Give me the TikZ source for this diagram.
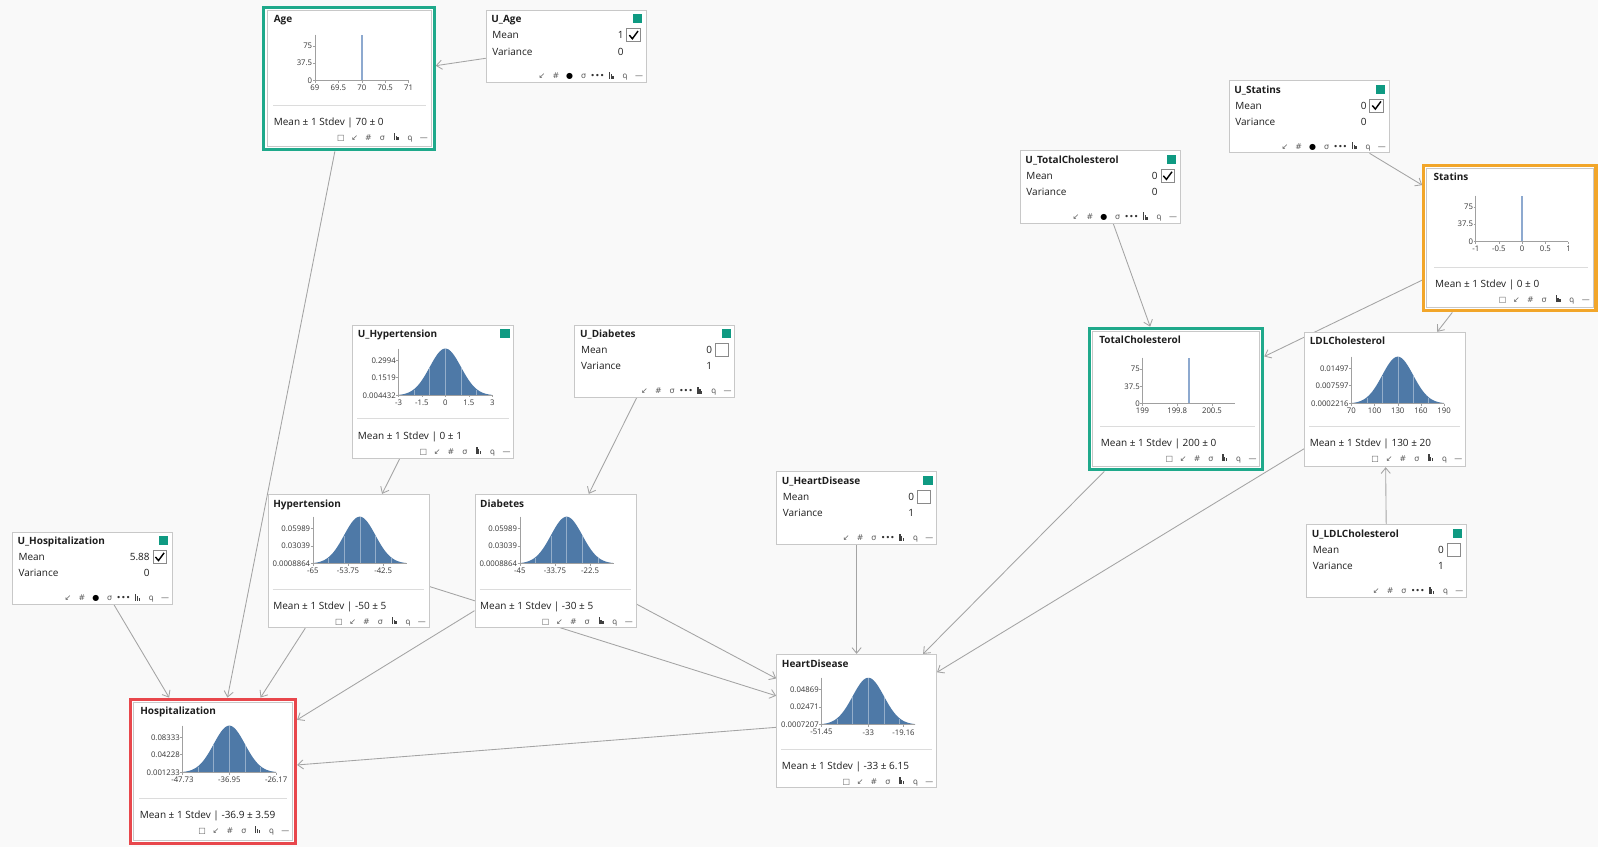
\documentclass[tikz,border=0pt]{standalone}
\usepackage{fontspec}
\usepackage{graphicx}
\setmainfont{Open Sans}
\newfontfamily\iconfont{DejaVu Sans}
\usetikzlibrary{arrows.meta}
\definecolor{bgc}{HTML}{F9F9F9}
\definecolor{cardline}{HTML}{C8C8C8}
\definecolor{edgec}{HTML}{A4A4A4}
\definecolor{hlgreen}{HTML}{1FA98B}
\definecolor{hlorange}{HTML}{F2A62A}
\definecolor{hlred}{HTML}{E8474C}
\definecolor{sqgreen}{HTML}{0F9A82}
\definecolor{distblue}{HTML}{4E79A7}
\definecolor{spikec}{HTML}{8DA9CF}
\definecolor{axisc}{HTML}{A0A0A0}
\definecolor{txt}{HTML}{1E1E1E}
\definecolor{icc}{HTML}{5A5A5A}
\definecolor{sepc}{HTML}{DCDCDC}
\definecolor{chkc}{HTML}{8A8A8A}
\pgfdeclarelayer{edgelayer}
\pgfsetlayers{edgelayer,main}
\tikzset{
 card/.style={draw=cardline, fill=white, line width=0.8pt, inner sep=0pt, rectangle},
 hlcard/.style={fill=white, line width=3pt, inner sep=0pt, rectangle},
 ttl/.style={font=\fontsize{9.8}{11}\selectfont\bfseries, text=txt, inner sep=0pt},
 lbl/.style={font=\fontsize{9.8}{11}\selectfont, text=txt, inner sep=0pt},
 tick/.style={font=\fontsize{7.6}{8}\selectfont, text=txt!90, inner sep=0pt},
 icn/.style={font=\iconfont\fontsize{7.8}{8}\selectfont, text=icc, inner sep=0pt},
 axis/.style={draw=axisc, line width=0.5pt},
 edge/.style={draw=edgec, line width=0.85pt, -{Straight Barb[length=5.5pt,width=9pt]}},
}
\newcommand{\icbox}[1]{\makebox[13.6pt]{#1}}
\newcommand{\icbars}{{\color{black!75}\rule{1.3pt}{7pt}\hspace{0.5pt}\rule{1.3pt}{4.5pt}\hspace{0.5pt}\rule{1.3pt}{2.8pt}}}
\newcommand{\icmagn}{\reflectbox{ρ}}
\newcommand{\iconP}{\icbox{↙}\icbox{\#}\icbox{\color{black}●}\icbox{σ}\icbox{\color{black!80}•••}\icbox{\icbars}\icbox{\icmagn}\icbox{—}}
\newcommand{\iconN}{\icbox{↙}\icbox{\#}\icbox{σ}\icbox{\color{black!80}•••}\icbox{\icbars}\icbox{\icmagn}\icbox{—}}
\newcommand{\iconD}{\icbox{□}\icbox{↙}\icbox{\#}\icbox{σ}\icbox{\icbars}\icbox{\icmagn}\icbox{—}}
% parameter card: name, X, Y, title, mean, checked, variance, dot
\newcommand{\pcard}[8]{%
 \node[card, minimum width=157pt, minimum height=71pt] (#1) at (#2+78.5,#3+35.5) {};
 \node[ttl, anchor=base west] (#1-t) at (#2+5,#3+12.5) {#4};
 \fill[sqgreen] (#2+144,#3+4) rectangle (#2+153,#3+13);
 \node[lbl, anchor=base west] (#1-m) at (#2+6,#3+28) {Mean};
 \node[lbl, anchor=base east] (#1-mv) at (#2+135,#3+28) {#5};
 \draw[chkc, fill=white, line width=0.6pt] (#2+138,#3+18) rectangle (#2+151,#3+31);
 \ifnum#6=1\relax \draw[black, line width=1.4pt] (#2+140.5,#3+24.5) -- (#2+143.5,#3+28) -- (#2+149,#3+20.5);\fi
 \node[lbl, anchor=base west] (#1-v) at (#2+6,#3+44) {Variance};
 \node[lbl, anchor=base east] (#1-vv) at (#2+135,#3+44) {#7};
 \node[icn, anchor=base east] (#1-i) at (#2+157,#3+67.5) {\ifnum#8=1\relax\iconP\else\iconN\fi};
}
% distribution card: name, X, Y, W, H, title, square
\newcommand{\dcard}[7]{%
 \node[card, minimum width=#4pt, minimum height=#5pt] (#1) at (#2+#4/2,#3+#5/2) {};
 \node[ttl, anchor=base west] (#1-t) at (#2+5,#3+12.5) {#6};
 \ifnum#7=1\relax \fill[sqgreen] (#2+#4-13,#3+4) rectangle (#2+#4-4,#3+13);\fi
}
% highlighted card: name, X, Y, W, H, title, colour
\newcommand{\hcard}[7]{%
 \node[hlcard, draw=#7, minimum width=#4pt+6pt, minimum height=#5pt+6pt] (#1) at (#2+#4/2,#3+#5/2) {};
 \draw[cardline, line width=0.8pt] (#2,#3) rectangle (#2+#4,#3+#5);
 \node[ttl, anchor=base west] (#1-t) at (#2+6.5,#3+12.5) {#6};
}
% summary: name, text x, card right, separator y, text
\newcommand{\summ}[5]{%
 \draw[sepc, line width=0.8pt] (#2-0.5,#4) -- (#3-5,#4);
 \node[lbl, anchor=base west] (#1-s) at (#2,#4+20.5) {Mean ± 1 Stdev | #5};
 \node[icn, anchor=base east] (#1-i) at (#3,#4+34.5) {\iconD};
}
% gaussian chart: X0, B, W, ytop, ymid, ybot, xlabels
\newcommand{\gausschart}[7]{%
 \fill[distblue] (#1,#2) -- plot[domain=-3:3, samples=80, variable=\t] ({#1+(\t+3)/6*#3},{#2-46*exp(-0.5*(\t)*(\t))}) -- (#1+#3,#2) -- cycle;
 \foreach \k in {-2,-1,0,1,2} \draw[white, opacity=0.4, line width=0.5pt] ({#1+(\k+3)/6*#3},#2) -- ({#1+(\k+3)/6*#3},{#2-46*exp(-0.5*(\k)*(\k))+0.6});
 \draw[axis] (#1,#2-46) -- (#1,#2) -- (#1+#3,#2);
 \foreach \v/\d in {#4/34.5,#5/17.5,#6/0} {\draw[axis] (#1-2,#2-\d) -- (#1,#2-\d); \node[tick, anchor=east] at (#1-2.5,#2-\d) {\v};}
 \foreach \l/\f in {#7} {\draw[axis] ({#1+\f*#3},#2) -- ({#1+\f*#3},#2+2); \node[tick, anchor=north] at ({#1+\f*#3},#2+4.5) {\l};}
}
% spike chart: X0, B, W, xlabels
\newcommand{\spikechart}[4]{%
 \fill[spikec] (#1+#3/2-1,#2) rectangle (#1+#3/2+1,#2-45);
 \draw[axis] (#1,#2-45) -- (#1,#2) -- (#1+#3,#2);
 \foreach \v/\d in {75/34,37.5/17,0/0} {\draw[axis] (#1-2,#2-\d) -- (#1,#2-\d); \node[tick, anchor=east] at (#1-2.5,#2-\d) {\v};}
 \foreach \l/\f in {#4} {\draw[axis] ({#1+\f*#3},#2) -- ({#1+\f*#3},#2+2); \node[tick, anchor=north] at ({#1+\f*#3},#2+4.5) {\l};}
}
\begin{document}
\begin{tikzpicture}[x=1pt,y=-1pt]
\begin{pgfonlayer}{edgelayer}
\fill[bgc] (0,0) rectangle (1568,831);
\end{pgfonlayer}
\useasboundingbox (0,0) rectangle (1568,831);

\pcard{uage}{477}{10}{U\_Age}{1}{1}{0}{1}
\pcard{ustat}{1206}{79}{U\_Statins}{0}{1}{0}{1}
\pcard{utc}{1001}{148}{U\_TotalCholesterol}{0}{1}{0}{1}
\pcard{udia}{564}{319}{U\_Diabetes}{0}{0}{1}{0}
\pcard{uhd}{762}{463}{U\_HeartDisease}{0}{0}{1}{0}
\pcard{uldl}{1282}{515}{U\_LDLCholesterol}{0}{0}{1}{0}
\pcard{uhosp}{12}{522}{U\_Hospitalization}{5.88}{1}{0}{1}

\dcard{uhyp}{346}{319}{158}{131}{U\_Hypertension}{1}
\gausschart{391}{388}{92}{0.2994}{0.1519}{0.004432}{-3/0,-1.5/0.25,0/0.5,1.5/0.75,3/1}
\summ{uhyp}{351}{504}{411}{0 ± 1}

\dcard{hyp}{263}{485}{158}{131}{Hypertension}{0}
\gausschart{307}{553}{92}{0.05989}{0.03039}{0.0008864}{-65/0,-53.75/0.375,-42.5/0.75}
\summ{hyp}{268}{421}{578}{-50 ± 5}

\dcard{dia}{466}{485}{158}{131}{Diabetes}{0}
\gausschart{510}{553}{92}{0.05989}{0.03039}{0.0008864}{-45/0,-33.75/0.375,-22.5/0.75}
\summ{dia}{471}{624}{578}{-30 ± 5}

\dcard{hd}{762}{642}{157}{131}{HeartDisease}{0}
\gausschart{806}{711}{92}{0.04869}{0.02471}{0.0007207}{-51.45/0,-33/0.5,-19.16/0.875}
\summ{hd}{767}{919}{735}{-33 ± 6.15}

\dcard{ldl}{1280}{326}{158}{132}{LDLCholesterol}{0}
\gausschart{1326}{396}{91}{0.01497}{0.007597}{0.0002216}{70/0,100/0.25,130/0.5,160/0.75,190/1}
\summ{ldl}{1285}{1438}{418}{130 ± 20}

\hcard{age}{262}{10}{161}{134}{Age}{hlgreen}
\spikechart{309}{79}{92}{69/0,69.5/0.25,70/0.5,70.5/0.75,71/1}
\summ{age}{268.5}{423}{103}{70 ± 0}

\hcard{stat}{1400}{165}{163}{137}{Statins}{hlorange}
\spikechart{1448}{237}{91}{-1/0,-0.5/0.25,0/0.5,0.5/0.75,1/1}
\summ{stat}{1408}{1563}{262}{0 ± 0}

\hcard{tc}{1072}{325}{164}{133}{TotalCholesterol}{hlgreen}
\spikechart{1121}{396}{91}{199/0,199.8/0.375,200.5/0.75}
\summ{tc}{1080}{1236}{418}{200 ± 0}

\hcard{hosp}{131}{689}{156}{136}{Hospitalization}{hlred}
\gausschart{179}{758}{92}{0.08333}{0.04228}{0.001233}{-47.73/0,-36.95/0.5,-26.17/1}
\summ{hosp}{137}{287}{783}{-36.9 ± 3.59}

\begin{pgfonlayer}{edgelayer}
\draw[edge] (uage) -- (age);
\draw[edge] (age) -- (hosp);
\draw[edge] (uhyp) -- (hyp);
\draw[edge] (udia) -- (dia);
\draw[edge] (uhosp) -- (hosp);
\draw[edge] (hyp) -- (hosp);
\draw[edge] (dia) -- (hosp);
\draw[edge] (hyp) -- (hd);
\draw[edge] (dia) -- (hd);
\draw[edge] (hd) -- (hosp);
\draw[edge] (uhd) -- (hd);
\draw[edge] (utc) -- (tc);
\draw[edge] (ustat) -- (stat);
\draw[edge] (stat) -- (tc);
\draw[edge] (stat) -- (ldl);
\draw[edge] (uldl) -- (ldl);
\draw[edge] (tc) -- (hd);
\draw[edge] (ldl) -- (hd);
\end{pgfonlayer}
\end{tikzpicture}
\end{document}
